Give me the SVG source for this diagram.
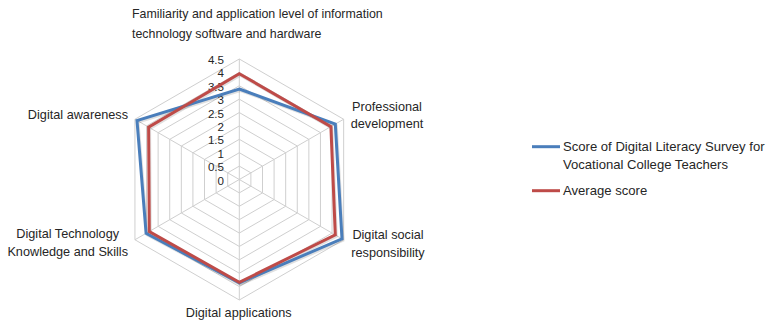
<svg xmlns="http://www.w3.org/2000/svg" width="768" height="325" viewBox="0 0 768 325">
<style>
.t{font-family:"Liberation Sans",Arial,sans-serif;font-size:12.7px;fill:#262626}
.ti{font-size:12.4px}
.lg{font-size:13.1px}
.n{font-family:"Liberation Sans",Arial,sans-serif;font-size:11.6px;fill:#262626;text-anchor:end}
.g{fill:none;stroke:#cfcfcf;stroke-width:1}
.s{fill:none;stroke:#000;stroke-opacity:0.12;stroke-width:3;stroke-linejoin:miter}
.blue{fill:none;stroke:#4a7ebb;stroke-width:3;stroke-linejoin:miter}
.red{fill:none;stroke:#be4b48;stroke-width:3;stroke-linejoin:miter}
</style>
<rect width="768" height="325" fill="#fff"/>
<g id="grid" transform="translate(239.3,179.5)">
<polygon class="g" points="0,-13.39 11.59,-6.69 11.59,6.69 0,13.39 -11.59,6.69 -11.59,-6.69"/>
<polygon class="g" points="0,-26.78 23.19,-13.39 23.19,13.39 0,26.78 -23.19,13.39 -23.19,-13.39"/>
<polygon class="g" points="0,-40.17 34.78,-20.08 34.78,20.08 0,40.17 -34.78,20.08 -34.78,-20.08"/>
<polygon class="g" points="0,-53.56 46.38,-26.78 46.38,26.78 0,53.56 -46.38,26.78 -46.38,-26.78"/>
<polygon class="g" points="0,-66.94 57.97,-33.47 57.97,33.47 0,66.94 -57.97,33.47 -57.97,-33.47"/>
<polygon class="g" points="0,-80.33 69.57,-40.17 69.57,40.17 0,80.33 -69.57,40.17 -69.57,-40.17"/>
<polygon class="g" points="0,-93.72 81.16,-46.86 81.16,46.86 0,93.72 -81.16,46.86 -81.16,-46.86"/>
<polygon class="g" points="0,-107.11 92.76,-53.56 92.76,53.56 0,107.11 -92.76,53.56 -92.76,-53.56"/>
<polygon class="g" points="0,-120.5 104.36,-60.25 104.36,60.25 0,120.5 -104.36,60.25 -104.36,-60.25"/>
<path class="g" d="M0,0V-120.5M0,0L104.36,-60.25M0,0L104.36,60.25M0,0V120.5M0,0L-104.36,60.25M0,0L-104.36,-60.25"/>
</g>
<g id="axis-labels">
<text class="n" x="224" y="64">4.5</text>
<text class="n" x="224" y="77.4">4</text>
<text class="n" x="224" y="90.8">3.5</text>
<text class="n" x="224" y="104.2">3</text>
<text class="n" x="224" y="117.6">2.5</text>
<text class="n" x="224" y="131">2</text>
<text class="n" x="224" y="144.4">1.5</text>
<text class="n" x="224" y="157.7">1</text>
<text class="n" x="224" y="171.1">0.5</text>
<text class="n" x="224" y="184.5">0</text>
</g>
<g id="series" transform="translate(239.3,179.5)">
<polygon class="s" transform="translate(1,1.5)" points="0,-90.5 96,-55.4 102.7,59.3 0,103.4 -93.2,53.8 -102.3,-59"/>
<polygon class="s" transform="translate(1,1.5)" points="0,-105.8 91.6,-52.9 96,55.4 0,102.8 -90,52 -90.7,-52.4"/>
<polygon id="series-blue" class="blue" points="0,-90.5 96,-55.4 102.7,59.3 0,103.4 -93.2,53.8 -102.3,-59"/>
<polygon id="series-red" class="red" points="0,-105.8 91.6,-52.9 96,55.4 0,102.8 -90,52 -90.7,-52.4"/>
</g>
<g id="label-familiarity">
<text class="t ti" x="132" y="18">Familiarity and application level of information</text>
<text class="t ti" x="132" y="38">technology software and hardware</text>
</g>
<g id="label-professional">
<text class="t" x="387" y="110.7" text-anchor="middle">Professional</text>
<text class="t" x="387" y="128.3" text-anchor="middle">development</text>
</g>
<g id="label-social">
<text class="t" x="388" y="239" text-anchor="middle">Digital social</text>
<text class="t" x="388" y="256.7" text-anchor="middle">responsibility</text>
</g>
<g id="label-applications">
<text class="t" x="238.7" y="316.7" text-anchor="middle">Digital applications</text>
</g>
<g id="label-technology">
<text class="t" x="67.7" y="238.3" text-anchor="middle">Digital Technology</text>
<text class="t" x="67.7" y="255.7" text-anchor="middle">Knowledge and Skills</text>
</g>
<g id="label-awareness">
<text class="t" x="128" y="119.3" text-anchor="end">Digital awareness</text>
</g>
<g id="legend">
<line x1="532" y1="146.7" x2="560" y2="146.7" stroke="#4a7ebb" stroke-width="3"/>
<text class="t lg" x="563" y="150.5">Score of Digital Literacy Survey for</text>
<text class="t lg" x="563" y="169.3">Vocational College Teachers</text>
<line x1="532" y1="190.7" x2="560" y2="190.7" stroke="#be4b48" stroke-width="3"/>
<text class="t lg" x="563" y="194.5">Average score</text>
</g>
</svg>
